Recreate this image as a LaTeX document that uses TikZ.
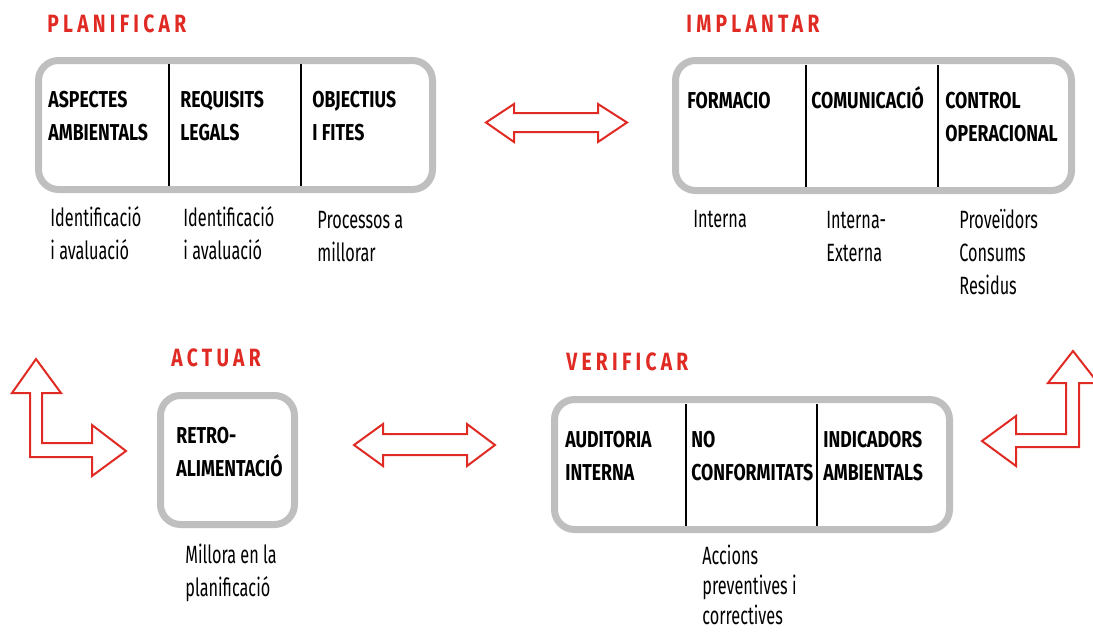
\documentclass[tikz,border=0pt]{standalone}
\usepackage{fontspec}
\setmainfont{Fira Sans}[FakeStretch=0.65,BoldFeatures={FakeStretch=0.77}]
\usetikzlibrary{positioning}

\begin{document}
\begin{tikzpicture}[
            x=0.5pt,y=-0.5pt,
            node distance=3mm
        ]
            \colorlet{gry}{black!25}
            \definecolor{rdx}{RGB}{224,42,36}
            \useasboundingbox (0,0) rectangle (1093,633);

            % caixes
            \begin{scope}[
                every node/.style={draw=gry,line width=3.5pt,rounded corners=10pt,inner sep=0pt}
            ]
                \node (plan) [minimum width=197pt,minimum height=64.5pt] at (235.5,125)   {};
                \node (impl) [minimum width=198pt,minimum height=65pt]   at (873.5,125.5) {};
                \node (act)  [minimum width=67pt,minimum height=64.5pt]  at (227.5,460)   {};
                \node (verf) [minimum width=197.5pt,minimum height=65pt] at (752,464.5)   {};
            \end{scope}
            \draw [line width=0.8pt] (169,64) -- (169,186);
            \draw [line width=0.8pt] (301,64) -- (301,186);
            \draw [line width=0.8pt] (806,65) -- (806,187);
            \draw [line width=0.8pt] (938,65) -- (938,187);
            \draw [line width=0.8pt] (686,404) -- (686,526);
            \draw [line width=0.8pt] (817,404) -- (817,526);

            % titols
            \begin{scope}[
                every node/.style={anchor=base west,inner sep=0pt,text=rdx,
                    font=\fontsize{12.5}{15}\selectfont\bfseries\addfontfeatures{LetterSpace=17}}
            ]
                \node (tplan) at (47,32)   {PLANIFICAR};
                \node (timpl) at (686,32)  {IMPLANTAR};
                \node (tact)  at (171,366) {ACTUAR};
                \node (tverf) at (566,370) {VERIFICAR};
            \end{scope}

            % dins de les caixes (base = darrera linia)
            \begin{scope}[
                every node/.style={anchor=base west,inner sep=0pt,align=left,
                    font=\fontsize{11.5}{16.5}\selectfont\bfseries}
            ]
                \node (a1) at (48,140)  {ASPECTES\\AMBIENTALS};
                \node (a2) at (180,140) {REQUISITS\\LEGALS};
                \node (a3) at (312,140) {OBJECTIUS\\I FITES};
                \node (b1) at (687,108) {FORMACIO};
                \node (b2) at (811,108) {COMUNICACIÓ};
                \node (b3) at (945,141) {CONTROL\\OPERACIONAL};
                \node (c1) at (176,476) {RETRO-\\ALIMENTACIÓ};
                \node (d1) at (565,480) {AUDITORIA\\INTERNA};
                \node (d2) at (691,480) {NO\\CONFORMITATS};
                \node (d3) at (823,480) {INDICADORS\\AMBIENTALS};
            \end{scope}

            % sota les caixes
            \begin{scope}[
                every node/.style={anchor=base west,inner sep=0pt,align=left,
                    font=\fontsize{12.5}{16.5}\selectfont}
            ]
                \node (a1n) at (50,259)  {Identificació\\i avaluació};
                \node (a2n) at (183,259) {Identificació\\i avaluació};
                \node (a3n) at (317,261) {Processos a\\millorar};
                \node (b1n) at (693,227) {Interna};
                \node (b2n) at (826,261) {Interna-\\Externa};
                \node (b3n) at (959,294) {Proveïdors\\Consums\\Residus};
                \node (c1n) at (185,596) {Millora en la\\planificació};
                \node (d2n) [font=\fontsize{12.5}{15}\selectfont] at (702,624) {Accions\\preventives i\\correctives};
            \end{scope}

            % fletxes
            \begin{scope}[
                every path/.style={draw=rdx,line width=1pt,fill=white,line join=miter}
            ]
                \draw (486,122.5) -- (514,104) -- (514,113) -- (598,113) -- (598,104) -- (627,122.5)
                      -- (598,142) -- (598,132) -- (514,132) -- (514,142) -- cycle;
                \draw (354,445) -- (383,424) -- (383,434) -- (467,434) -- (467,424) -- (495,445)
                      -- (467,466) -- (467,455) -- (383,455) -- (383,466) -- cycle;
                \draw (36,359) -- (61,393) -- (42,393) -- (42,443) -- (92,443) -- (92,425) -- (126,451)
                      -- (92,476) -- (92,457) -- (30,457) -- (30,393) -- (12,393) -- cycle;
                \draw (1073,351) -- (1098,383) -- (1079,383) -- (1079,447) -- (1016,447) -- (1016,466)
                      -- (982,441) -- (1016,416) -- (1016,434) -- (1066,434) -- (1066,383) -- (1048,383) -- cycle;
            \end{scope}
        \end{tikzpicture}
\end{document}
